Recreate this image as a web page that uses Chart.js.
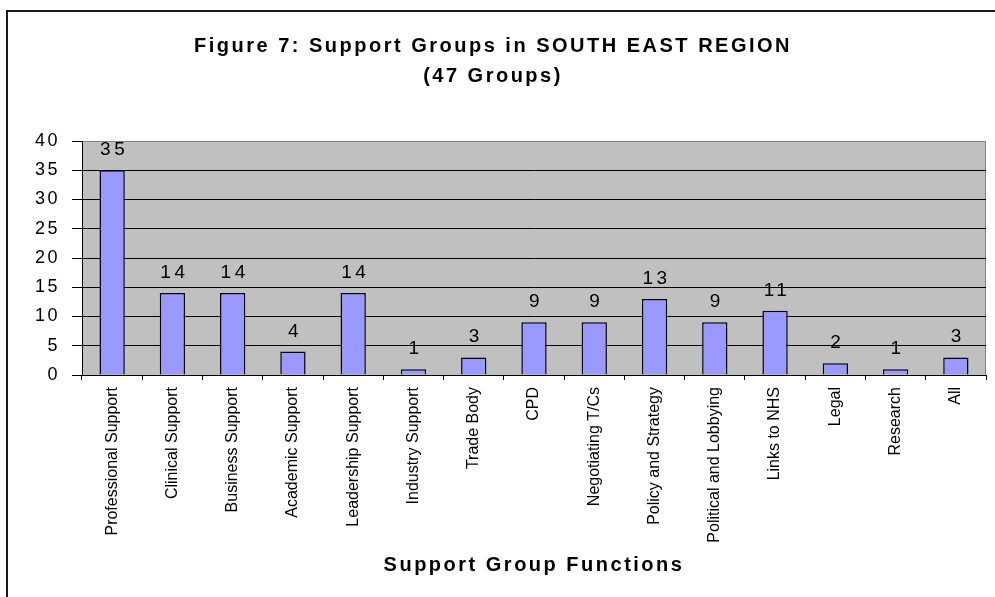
<!DOCTYPE html>
<html lang="en">
<head>
<meta charset="UTF-8">
<title>Support Groups - South East Region</title>
<script src="https://cdn.jsdelivr.net/npm/chart.js"></script>
<style>
    html, body { margin: 0; padding: 0; background: #fff; }
    body { width: 995px; height: 597px; overflow: hidden; position: relative; }
    #grafico { position: absolute; left: 0; top: 0; }
</style>
</head>
<body>
<canvas id="grafico" width="1048" height="597"></canvas>
<script>
    // dados do grafico
    var funcoes = ['Professional Support', 'Clinical Support', 'Business Support', 'Academic Support',
        'Leadership Support', 'Industry Support', 'Trade Body', 'CPD', 'Negotiating T/Cs',
        'Policy and Strategy', 'Political and Lobbying', 'Links to NHS', 'Legal', 'Research', 'All'];
    var grupos = [35, 14, 14, 4, 14, 1, 3, 9, 9, 13, 9, 11, 2, 1, 3];
    var eixoMin = 0;
    var eixoMax = 40;
    var eixoPasso = 5;

    var fonte = '"Liberation Sans", Arial, sans-serif';

    // fundo cinza, moldura e rotulos de valor em cima das barras
    const moldura = {
        id: 'moldura',
        beforeDraw(chart) {
            const ctx = chart.ctx;
            const a = chart.chartArea;
            ctx.save();
            ctx.strokeStyle = '#1a1a1a';
            ctx.lineWidth = 2;
            ctx.beginPath();
            ctx.moveTo(7, chart.height + 5);
            ctx.lineTo(7, 11);
            ctx.lineTo(chart.width + 5, 11);
            ctx.stroke();
            ctx.fillStyle = '#c0c0c0';
            ctx.fillRect(a.left, a.top, a.right - a.left, a.bottom - a.top);
            ctx.strokeStyle = '#808080';
            ctx.lineWidth = 1;
            ctx.strokeRect(a.left + 0.5, a.top + 0.5, a.right - a.left - 1, a.bottom - a.top);
            ctx.restore();
            // titulo, titulo do eixo e numeros do eixo y sao espacados
            ctx.letterSpacing = '2.5px';
        },
        afterDatasetsDraw(chart) {
            const ctx = chart.ctx;
            const meta = chart.getDatasetMeta(0);
            ctx.save();
            ctx.letterSpacing = '3.5px';
            ctx.font = '19px ' + fonte;
            ctx.fillStyle = '#000';
            ctx.textAlign = 'center';
            ctx.textBaseline = 'alphabetic';
            meta.data.forEach((bar, i) => {
                ctx.fillText(String(grupos[i]), bar.x + 2, bar.y - 15);
            });
            ctx.restore();
            // rotulos do eixo x sem espacamento
            ctx.letterSpacing = '0px';
        }
    };

    new Chart(document.getElementById('grafico'), {
        type: 'bar',
        data: {
            labels: funcoes,
            datasets: [{
                data: grupos,
                backgroundColor: '#9999ff',
                borderColor: '#000',
                borderWidth: 1.5,
                categoryPercentage: 1,
                barPercentage: 0.42
            }]
        },
        options: {
            responsive: false,
            animation: false,
            devicePixelRatio: 1,
            layout: { padding: { left: 0, right: 62, top: 0, bottom: 0 } },
            plugins: {
                legend: { display: false },
                tooltip: { enabled: false },
                title: {
                    display: true,
                    text: ['Figure 7: Support Groups in SOUTH EAST REGION', '(47 Groups)'],
                    color: '#000',
                    font: { family: fonte, size: 20, weight: 'bold', lineHeight: 30 / 20 },
                    padding: { top: 31, bottom: 50 }
                }
            },
            scales: {
                x: {
                    offset: true,
                    grid: { offset: true, drawOnChartArea: false, drawTicks: true, tickLength: 5, tickColor: '#000' },
                    border: { color: '#000', width: 1 },
                    ticks: {
                        z: 1,
                        autoSkip: false,
                        maxRotation: 90,
                        minRotation: 90,
                        padding: 7,
                        color: '#000',
                        font: { family: fonte, size: 16 }
                    },
                    title: {
                        display: true,
                        text: 'Support Group Functions',
                        color: '#000',
                        font: { family: fonte, size: 20, weight: 'bold' },
                        padding: { top: 0, bottom: 20 }
                    },
                    afterFit(scale) { scale.height = 222; }
                },
                y: {
                    min: eixoMin,
                    max: eixoMax,
                    ticks: {
                        stepSize: eixoPasso,
                        padding: 12,
                        color: '#000',
                        font: { family: fonte, size: 18 }
                    },
                    grid: {
                        color: c => (c.tick && c.tick.value === eixoMax) ? '#808080' : '#000',
                        tickColor: '#000',
                        tickLength: 10,
                        lineWidth: 1
                    },
                    border: { color: '#000', width: 1 },
                    afterFit(scale) { scale.width = 82; }
                }
            }
        },
        plugins: [moldura]
    });
</script>
</body>
</html>
